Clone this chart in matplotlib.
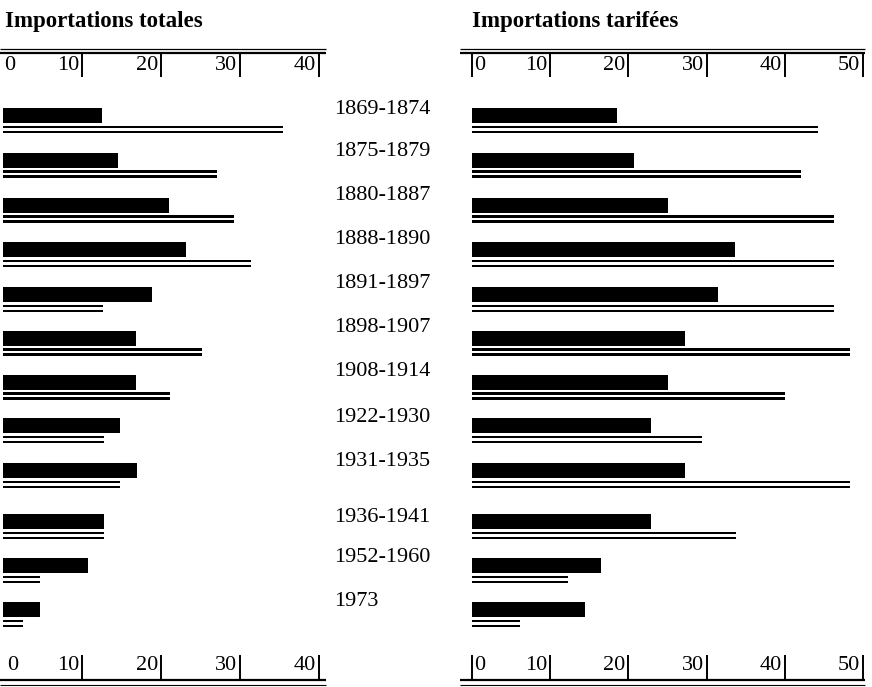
import matplotlib.pyplot as plt
import numpy as np

plt.rcParams['font.family'] = ['Liberation Serif', 'DejaVu Serif']

# periods
periodes = ['1869-1874', '1875-1879', '1880-1887', '1888-1890', '1891-1897',
            '1898-1907', '1908-1914', '1922-1930', '1931-1935', '1936-1941',
            '1952-1960', '1973']

# importations totales: black bar / double line
tot_noir = [12.5, 14.6, 21.0, 23.2, 18.9, 16.8, 16.8, 14.8, 17.0, 12.8, 10.8, 4.7]
tot_double = [35.4, 27.1, 29.2, 31.4, 12.7, 25.2, 21.1, 12.8, 14.8, 12.8, 4.7, 2.5]

# importations tarifees
tar_noir = [18.5, 20.7, 25.1, 33.6, 31.5, 27.2, 25.1, 22.9, 27.2, 22.9, 16.5, 14.5]
tar_double = [44.2, 42.1, 46.3, 46.3, 46.3, 48.3, 40.0, 29.4, 48.3, 33.8, 12.3, 6.1]

ticks_tot = [0, 10, 20, 30, 40]
ticks_tar = [0, 10, 20, 30, 40, 50]

W, H = 872, 687
fig = plt.figure(figsize=(W / 100, H / 100), dpi=100)

# row positions (pixels from top)
y_bar = np.array([115.5, 160, 205, 249.5, 294.5, 338, 382, 425.5, 470.5, 521.5, 565.5, 609.5])
y_lab = np.array([110, 152, 195, 240, 284, 328, 372, 417, 461, 518, 557, 601])

Y_NUM_BOT = 665   # bottom tick numbers
Y_RULE_BOT = 680  # bottom rule
FS = 16


def panel(x0, ppu, xmax_px, noir, double, ticks, zero_bar, line_from, line_to):
    ax = fig.add_axes([x0 / W, 0, (xmax_px - x0) / W, 1])
    ax.set_xlim(0, (xmax_px - x0) / ppu)
    ax.set_ylim(H, 0)
    ax.axis('off')
    ax.barh(y_bar, noir, height=15, left=0, color='black')
    ax.barh(y_bar + 11.5, double, height=2.3, color='black')
    ax.barh(y_bar + 16.5, double, height=2.5, color='black')

    px = 1.0 / ppu  # one pixel in data units
    xa = line_from * px
    xb = ticks[-1] + line_to * px
    kw = dict(color='black', clip_on=False, solid_capstyle='butt')
    # top rule
    ax.plot([xa, xb], [49, 49], lw=0.9, **kw)
    ax.plot([xa, xb], [53, 53], lw=1.6, **kw)
    # bottom rule
    ax.plot([xa, xb], [Y_RULE_BOT, Y_RULE_BOT], lw=1.6, **kw)
    ax.plot([xa, xb], [Y_RULE_BOT + 5, Y_RULE_BOT + 5], lw=0.8, **kw)

    for t in ticks:
        if t == 0:
            if zero_bar:
                ax.plot([0, 0], [53, 77], lw=1.4, **kw)
                ax.plot([0, 0], [Y_NUM_BOT - 10, Y_RULE_BOT], lw=1.4, **kw)
                ax.text(2 * px, 65, '0', ha='left', va='center', fontsize=FS)
                ax.text(2 * px, Y_NUM_BOT, '0', ha='left', va='center', fontsize=FS)
            else:
                ax.text(1 * px, 65, '0', ha='left', va='center', fontsize=FS)
                ax.text(4 * px, Y_NUM_BOT, '0', ha='left', va='center', fontsize=FS)
            continue
        ax.plot([t, t], [52, 77], lw=1.4, **kw)
        ax.plot([t, t], [Y_NUM_BOT - 10, Y_RULE_BOT], lw=1.4, **kw)
        ax.text(t - 3 * px, 65, str(t), ha='right', va='center', fontsize=FS)
        ax.text(t - 3 * px, Y_NUM_BOT, str(t), ha='right', va='center', fontsize=FS)
    return ax


panel(3, 7.9, 330, tot_noir, tot_double, ticks_tot, False, -3, 7)
panel(472, 7.82, 870, tar_noir, tar_double, ticks_tar, True, -12, 1.5)

fig.text(5 / W, 1 - 21 / H, 'Importations totales', ha='left', va='center',
         fontsize=16.5, fontweight='bold')
fig.text(472 / W, 1 - 21 / H, 'Importations tarifées', ha='left', va='center',
         fontsize=16.5, fontweight='bold')

for lab, y in zip(periodes, y_lab):
    fig.text(334 / W, 1 - y / H, lab, ha='left', va='center', fontsize=16)

fig.savefig('out.png', dpi=100)
